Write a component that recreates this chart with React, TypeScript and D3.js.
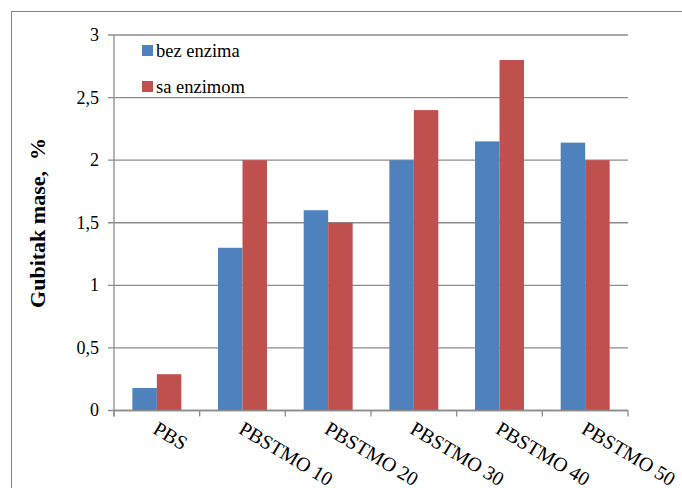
import React from "react";
import * as d3 from "d3";

const categories = ["PBS", "PBSTMO 10", "PBSTMO 20", "PBSTMO 30", "PBSTMO 40", "PBSTMO 50"];
const seriesNames = ["bez enzima", "sa enzimom"];
const bezEnzima = [0.18, 1.3, 1.6, 2.0, 2.15, 2.14];
const saEnzimom = [0.29, 2.0, 1.5, 2.4, 2.8, 2.0];
const yTicks = [0, 0.5, 1, 1.5, 2, 2.5, 3];
const colors = ["#4F81BD", "#C0504D"];

const W = 682, H = 488;
const left = 114, right = 628, top = 35, bottom = 410.5;
const font = "Liberation Serif";

export default function App() {
  const x = d3.scaleBand<string>().domain(categories).range([left, right]).paddingInner(0.4286).paddingOuter(0.2143);
  const y = d3.scaleLinear().domain([0, 3]).range([bottom, top]);
  const xs = d3.scaleBand<number>().domain([0, 1]).range([0, x.bandwidth()]);
  const step = (right - left) / categories.length;
  const series = [bezEnzima, saEnzimom];
  const ts = { fontFamily: font };
  return (
    <svg width={W} height={H} style={{ position: "absolute", left: 0, top: 0, background: "#fff" }}>
      <rect x={11.5} y={11.5} width={700} height={500} fill="none" stroke="#868686" strokeWidth={1} />
      {yTicks.map((t) => (
        <g key={t}>
          <line x1={left - 6} x2={right} y1={y(t)} y2={y(t)} stroke="#8c8c8c" strokeWidth={1.3} />
          <text x={99} y={y(t)} dy="0.33em" textAnchor="end" fontSize={18} fill="#000" style={ts}>
            {String(t).replace(".", ",")}
          </text>
        </g>
      ))}
      {series.map((vals, si) =>
        vals.map((v, i) => (
          <rect
            key={si + "-" + i}
            x={(x(categories[i]) as number) + (xs(si) as number)}
            y={y(v)}
            width={xs.bandwidth()}
            height={y(0) - y(v)}
            fill={colors[si]}
          />
        ))
      )}
      <line x1={left} x2={left} y1={top} y2={bottom + 6} stroke="#8c8c8c" strokeWidth={1.3} />
      <line x1={left} x2={right} y1={bottom} y2={bottom} stroke="#8c8c8c" strokeWidth={1.3} />
      {d3.range(categories.length + 1).map((i) => (
        <line key={i} x1={left + i * step} x2={left + i * step} y1={bottom} y2={bottom + 6} stroke="#8c8c8c" strokeWidth={1.3} />
      ))}
      {categories.map((c) => {
        const cx = (x(c) as number) + x.bandwidth() / 2 - 5;
        const cy = bottom + 22;
        return (
          <text key={c} x={cx} y={cy} transform={`rotate(31 ${cx} ${cy})`} fontSize={20} fill="#000" style={ts}>
            {c}
          </text>
        );
      })}
      <text x={45} y={223} transform="rotate(-90 45 223)" textAnchor="middle" fontSize={22} fontWeight="bold" fill="#000" style={ts} xmlSpace="preserve">
        {"Gubitak mase,  %"}
      </text>
      {seriesNames.map((n, i) => (
        <g key={n}>
          <rect x={142} y={45 + i * 36} width={11} height={11} fill={colors[i]} />
          <text x={156} y={51 + i * 36} dy="0.33em" fontSize={18.5} fill="#000" style={ts}>{n}</text>
        </g>
      ))}
    </svg>
  );
}
